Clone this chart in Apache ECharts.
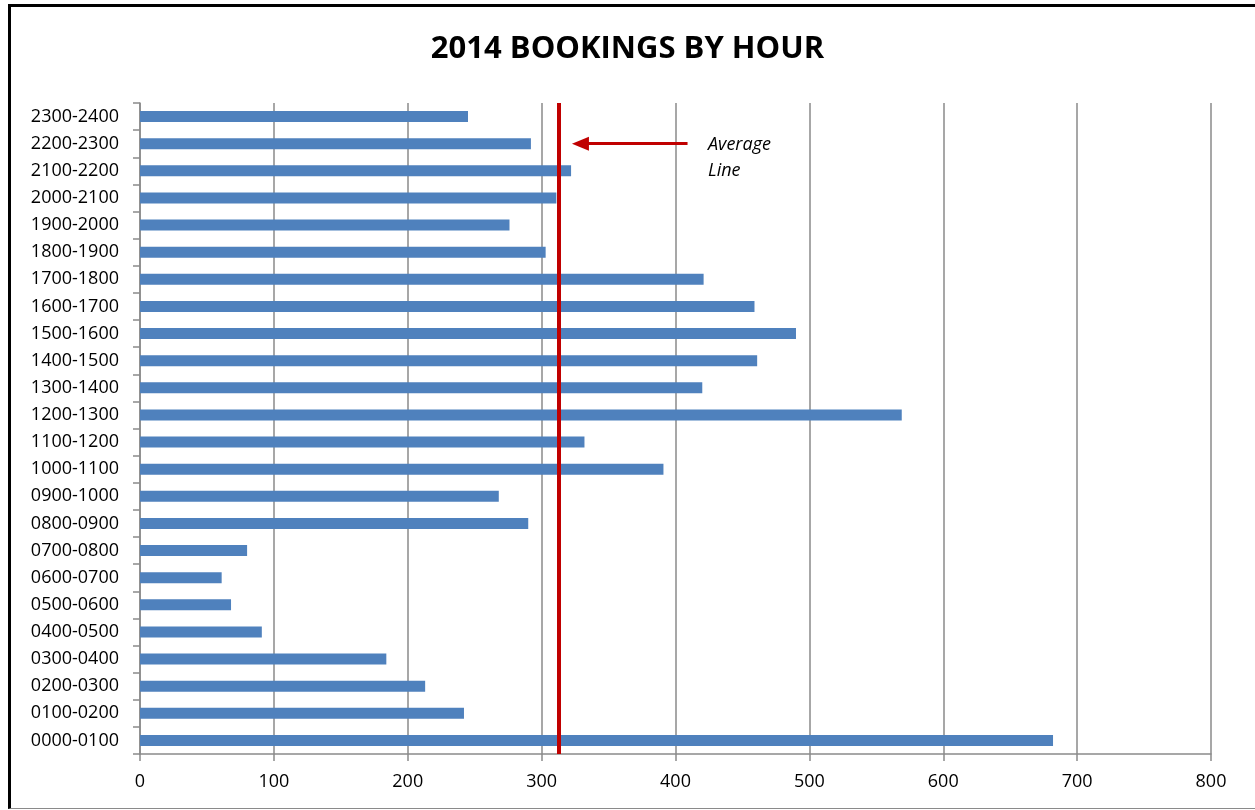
<!DOCTYPE html>
<html>
<head>
<meta charset="utf-8">
<script src="https://cdn.jsdelivr.net/npm/echarts@6/dist/echarts.min.js"></script>
<style>
  html, body { margin: 0; padding: 0; background: #fff; }
  #chart { width: 1255px; height: 810px; position: relative; }
  #frame {
    position: absolute; left: 8px; top: 4px; width: 1260px; height: 801px;
    border-top: 3px solid #000; border-left: 3px solid #000; border-bottom: 1px solid #8a8a8a;
    pointer-events: none;
  }
</style>
</head>
<body>
<div id="chart"></div>
<div id="frame"></div>
<script>
// categories, bottom to top
let hours = ['0000-0100', '0100-0200', '0200-0300', '0300-0400', '0400-0500', '0500-0600',
  '0600-0700', '0700-0800', '0800-0900', '0900-1000', '1000-1100', '1100-1200',
  '1200-1300', '1300-1400', '1400-1500', '1500-1600', '1600-1700', '1700-1800',
  '1800-1900', '1900-2000', '2000-2100', '2100-2200', '2200-2300', '2300-2400']
let bookings = [682, 242, 213, 184, 91, 68,
  61, 80, 290, 268, 391, 332,
  569, 420, 461, 490, 459, 421,
  303, 276, 311, 322, 292, 245]
let average = 313
let arrowFrom = 409
let arrowTo = 329
let arrowRow = '2200-2300'

let ch = echarts.init(document.getElementById('chart'))
let font = '"Open Sans", "Noto Sans", sans-serif'

let option = {
  animation: false,
  title: {
    text: '2014 BOOKINGS BY HOUR',
    left: 'center',
    top: 29,
    textStyle: { fontFamily: font, fontWeight: 'bold', fontSize: 31, color: '#000' }
  },
  grid: { left: 140, right: 44, top: 103, bottom: 56 },
  xAxis: {
    type: 'value',
    min: 0,
    max: 800,
    interval: 100,
    axisLine: { show: true, lineStyle: { color: '#8a8a8a', width: 1.5 } },
    axisTick: { show: true, length: 7, lineStyle: { color: '#8a8a8a', width: 1.5 } },
    splitLine: { show: true, lineStyle: { color: '#8a8a8a', width: 1.5 } },
    axisLabel: { color: '#000', fontFamily: font, fontSize: 18, margin: 19 }
  },
  yAxis: {
    type: 'category',
    data: hours,
    axisLine: { show: true, lineStyle: { color: '#8a8a8a', width: 1.5 } },
    axisTick: { show: true, length: 7, lineStyle: { color: '#8a8a8a', width: 1.5 } },
    splitLine: { show: false },
    axisLabel: { color: '#000', fontFamily: font, fontSize: 18, margin: 21 }
  },
  series: [
    {
      type: 'bar',
      data: bookings,
      barWidth: 11,
      itemStyle: { color: '#4F81BD' },
      markLine: {
        silent: true,
        symbol: 'none',
        label: { show: false },
        data: [
          { xAxis: average, lineStyle: { color: '#C00000', width: 4, type: 'solid' } },
          [
            { coord: [arrowFrom, arrowRow], symbol: 'none', lineStyle: { color: '#C00000', width: 3, type: 'solid' } },
            { coord: [arrowTo, arrowRow], symbol: 'triangle', symbolSize: [14, 17], symbolRotate: 90 }
          ]
        ]
      }
    }
  ],
  graphic: [
    {
      type: 'text',
      left: 708,
      top: 132,
      style: {
        text: 'Average\nLine',
        fill: '#000',
        font: 'italic 18px "Open Sans", "Noto Sans", sans-serif',
        align: 'center',
        lineHeight: 26,
        x: 37
      }
    }
  ]
}
ch.setOption(option)
</script>
</body>
</html>
